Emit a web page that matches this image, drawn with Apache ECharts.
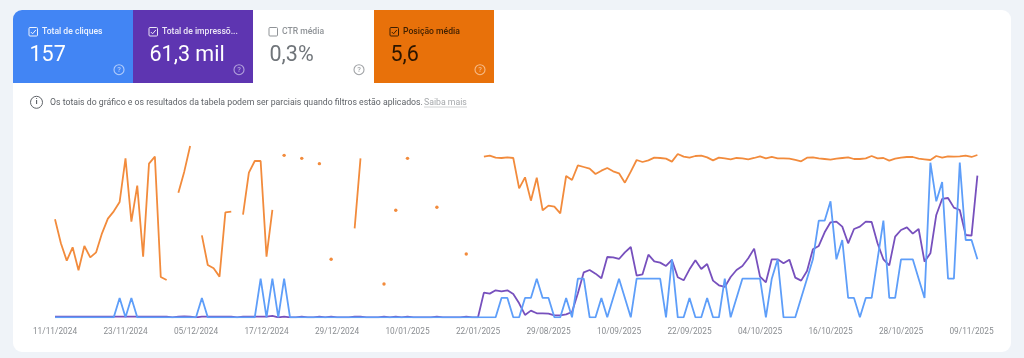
<!DOCTYPE html>
<html><head><meta charset="utf-8">
<script src="https://cdn.jsdelivr.net/npm/echarts@6/dist/echarts.min.js"></script>
<style>html,body{margin:0;padding:0;background:#eff3f8}#c{width:1024px;height:358px;filter:blur(0.45px)}</style>
</head><body><div id="c"></div>
<script>
const dates = [
"11/11/2024","12/11/2024","13/11/2024","14/11/2024","15/11/2024","16/11/2024","17/11/2024","18/11/2024","19/11/2024","20/11/2024","21/11/2024","22/11/2024",
"23/11/2024","24/11/2024","25/11/2024","26/11/2024","27/11/2024","28/11/2024","29/11/2024","30/11/2024","01/12/2024","02/12/2024","03/12/2024","04/12/2024",
"05/12/2024","06/12/2024","07/12/2024","08/12/2024","09/12/2024","10/12/2024","11/12/2024","12/12/2024","13/12/2024","14/12/2024","15/12/2024","16/12/2024",
"17/12/2024","18/12/2024","19/12/2024","20/12/2024","21/12/2024","22/12/2024","23/12/2024","24/12/2024","25/12/2024","26/12/2024","27/12/2024","28/12/2024",
"29/12/2024","30/12/2024","31/12/2024","01/01/2025","02/01/2025","03/01/2025","04/01/2025","05/01/2025","06/01/2025","07/01/2025","08/01/2025","09/01/2025",
"10/01/2025","11/01/2025","12/01/2025","13/01/2025","14/01/2025","15/01/2025","16/01/2025","17/01/2025","18/01/2025","19/01/2025","20/01/2025","21/01/2025",
"22/01/2025","18/08/2025","19/08/2025","20/08/2025","21/08/2025","22/08/2025","23/08/2025","24/08/2025","25/08/2025","26/08/2025","27/08/2025","28/08/2025",
"29/08/2025","30/08/2025","31/08/2025","01/09/2025","02/09/2025","03/09/2025","04/09/2025","05/09/2025","06/09/2025","07/09/2025","08/09/2025","09/09/2025",
"10/09/2025","11/09/2025","12/09/2025","13/09/2025","14/09/2025","15/09/2025","16/09/2025","17/09/2025","18/09/2025","19/09/2025","20/09/2025","21/09/2025",
"22/09/2025","23/09/2025","24/09/2025","25/09/2025","26/09/2025","27/09/2025","28/09/2025","29/09/2025","30/09/2025","01/10/2025","02/10/2025","03/10/2025",
"04/10/2025","05/10/2025","06/10/2025","07/10/2025","08/10/2025","09/10/2025","10/10/2025","11/10/2025","12/10/2025","13/10/2025","14/10/2025","15/10/2025",
"16/10/2025","17/10/2025","18/10/2025","19/10/2025","20/10/2025","21/10/2025","22/10/2025","23/10/2025","24/10/2025","25/10/2025","26/10/2025","27/10/2025",
"28/10/2025","29/10/2025","30/10/2025","31/10/2025","01/11/2025","02/11/2025","03/11/2025","04/11/2025","05/11/2025","06/11/2025","07/11/2025","08/11/2025",
"09/11/2025","10/11/2025"];
const clicks = [
0,0,0,0,0,0,0,0,0,0,0,1,0,1,0,0,0,0,0,0,0,0,0,0,0,1,0,0,0,0,0,0,0,0,0,2,
0,2,0,2,0,0,0,0,0,0,0,0,0,0,0,0,0,0,0,0,0,0,0,0,0,0,0,0,0,0,0,0,0,0,0,0,
0,0,0,0,1,1,0,0,1,1,2,1,1,0,0,1,0,2,2,0,0,1,0,1,2,1,0,2,2,2,2,2,0,3,0,0,
1,0,0,1,0,0,2,0,1,2,2,2,2,0,2,3,0,0,0,1,2,3,5,5,6,3,4,1,1,0,1,1,3,5,1,1,
3,3,3,2,1,8,6,7,2,2,8,4,4,3];
const impressions = [
8,8,8,8,8,8,8,8,8,8,8,8,8,8,8,8,8,8,8,8,0,8,12,8,0,8,8,8,8,8,8,0,8,8,8,8,
8,16,0,8,0,0,8,0,0,8,0,8,0,0,0,8,8,0,0,0,8,0,8,0,8,0,0,0,0,8,0,0,0,0,8,0,
0,296,284,324,312,324,280,168,28,80,48,48,44,24,24,36,64,288,540,568,524,468,724,720,700,780,844,500,516,752,672,656,616,688,480,444,
576,684,580,640,440,384,364,484,568,616,708,824,488,420,696,696,648,692,476,440,556,816,856,1020,1140,1148,1088,888,1060,1088,1148,1144,888,696,624,968,
1048,1080,1004,1060,668,768,1228,1420,1432,1316,1288,988,980,1700];
const position = [
26.8,34.0,39.2,35.2,42.1,34.8,38.2,36.7,31.0,26.6,24.4,21.6,8.5,27.5,16.7,38.0,10.1,8.0,44.1,45.0,null,18.8,12.5,4.8,
null,31.6,40.5,41.5,44.0,24.7,24.5,null,25.4,12.8,9.3,9.3,38.0,24.0,null,7.6,null,null,8.5,null,null,10.1,null,38.8,
null,null,null,29.5,8.5,null,null,null,46.2,null,24.1,null,8.5,null,null,null,null,23.2,null,null,null,null,37.2,null,
null,8.0,7.7,8.3,8.4,8.2,8.4,17.5,14.2,21.2,14.3,24.1,22.7,23.0,25.0,13.8,15.0,10.6,11.1,11.6,13.2,12.2,11.4,12.4,
13.0,15.8,12.5,9.0,9.6,9.1,8.3,8.4,8.6,9.5,7.2,8.0,8.3,7.8,7.7,8.2,9.1,8.3,8.5,8.8,8.4,8.5,8.8,8.4,
7.9,8.5,8.1,8.5,8.5,8.6,9.0,9.4,8.3,8.2,8.5,8.7,8.9,8.6,8.4,8.2,8.7,8.7,8.5,7.8,8.5,8.4,9.2,8.6,
8.3,8.1,8.1,8.6,8.8,9.0,7.8,8.3,7.9,8.0,7.9,7.7,8.1,7.5];
const tiles = [
 {title:"Total de cliques",value:"157",x:13,w:120,fill:"#4285f4",ink:"#ffffff",titleInk:"#eef3fe",helpInk:"#b3cdfb",checked:true},
 {title:"Total de impressõ...",value:"61,3 mil",x:133,w:120,fill:"#5e35b1",ink:"#ffffff",titleInk:"#ece7f6",helpInk:"#b3a2dc",checked:true},
 {title:"CTR média",value:"0,3%",x:253,w:121,fill:"#ffffff",ink:"#70757a",titleInk:"#8f9397",helpInk:"#a0a3a6",checked:false},
 {title:"Posição média",value:"5,6",x:374,w:120,fill:"#e8710a",ink:"#2b1500",titleInk:"#3d1f02",helpInk:"#f6bb88",checked:true}
];
const note = "Os totais do gráfico e os resultados da tabela podem ser parciais quando filtros estão aplicados.";
const noteLink = "Saiba mais";
const FONT = "Roboto, sans-serif";
const g = [];
g.push({type:'rect',shape:{x:13,y:10,width:998,height:342,r:9},style:{fill:'#fff'},silent:true});
tiles.forEach((t,i)=>{
  const r = i===0?[9,0,0,0]:0;
  g.push({type:'rect',shape:{x:t.x,y:10,width:t.w,height:73,r},style:{fill:t.fill}});
  const cx=t.x+16;
  g.push({type:'rect',shape:{x:cx,y:27.5,width:8.5,height:8.5,r:1},style:{fill:'none',stroke:t.titleInk,lineWidth:1}});
  if(t.checked) g.push({type:'polyline',shape:{points:[[cx+1.8,32],[cx+3.6,33.8],[cx+6.8,30]]},style:{fill:'none',stroke:t.titleInk,lineWidth:1}});
  g.push({type:'text',style:{x:t.x+29,y:31.5,text:t.title,fill:t.titleInk,font:"500 8.6px "+FONT,textVerticalAlign:'middle'}});
  g.push({type:'text',style:{x:t.x+16.5,y:55.5,text:t.value,fill:t.ink,font:"400 21.5px "+FONT,textVerticalAlign:'middle'}});
  g.push({type:'circle',shape:{cx:t.x+106,cy:69.7,r:5},style:{fill:'none',stroke:t.helpInk,lineWidth:1.1}});
  g.push({type:'text',style:{x:t.x+106,y:69.9,text:'?',fill:t.helpInk,font:"500 7.5px "+FONT,textAlign:'center',textVerticalAlign:'middle'}});
});
g.push({type:'circle',shape:{cx:36.5,cy:102.3,r:6},style:{fill:'none',stroke:'#5f6368',lineWidth:1}});
g.push({type:'text',style:{x:36.5,y:102.3,text:'i',fill:'#5f6368',font:"700 8px "+FONT,textAlign:'center',textVerticalAlign:'middle'}});
g.push({type:'text',style:{x:50,y:102.5,text:note,fill:'#5f6368',font:"400 8.72px "+FONT,textVerticalAlign:'middle'}});
g.push({type:'text',style:{x:424,y:102.5,text:noteLink,fill:'#a5a8ab',font:"400 8.72px "+FONT,textVerticalAlign:'middle'}});
g.push({type:'line',shape:{x1:424,y1:107,x2:467,y2:107},style:{stroke:'#c4c6c8',lineWidth:0.8}});

const isolated = i => position[i]!=null && position[i-1]==null && position[i+1]==null;
const chart = echarts.init(document.getElementById('c'),null,{renderer:'canvas'});
chart.setOption({
  animation:false,
  backgroundColor:'#eff3f8',
  graphic:{elements:g.map(e=>Object.assign({z:-1},e))},
  grid:{left:55,top:130,width:922.4,height:187.3,containLabel:false},
  xAxis:{type:'category',data:dates,boundaryGap:false,
    axisLine:{show:false},axisTick:{show:false},splitLine:{show:false},
    axisLabel:{interval:(i)=>i%12===0,color:'#8a8d91',fontFamily:'Roboto',fontSize:8.3,margin:11,hideOverlap:false}},
  yAxis:[
    {type:'value',min:0,max:9.69,show:false},
    {type:'value',min:0,max:2248,show:false},
    {type:'value',min:0,max:56.2,inverse:true,show:false}
  ],
  tooltip:{show:false},
  series:[
    {name:'Impressões',type:'line',yAxisIndex:1,data:impressions,showSymbol:false,symbol:'none',z:2,
      lineStyle:{color:'#7750bd',width:1.8},itemStyle:{color:'#7750bd'}},
    {name:'Posição',type:'line',yAxisIndex:2,data:position,connectNulls:false,showSymbol:true,showAllSymbol:true,symbol:'circle',z:3,
      symbolSize:(v,p)=>isolated(p.dataIndex)?3.4:0,
      lineStyle:{color:'#f28b3c',width:1.8},itemStyle:{color:'#f28b3c',borderWidth:0}},
    {name:'Cliques',type:'line',yAxisIndex:0,data:clicks,showSymbol:false,symbol:'none',z:4,
      lineStyle:{color:'#5e9ef9',width:1.8},itemStyle:{color:'#5e9ef9'}}
  ]
});
</script></body></html>
